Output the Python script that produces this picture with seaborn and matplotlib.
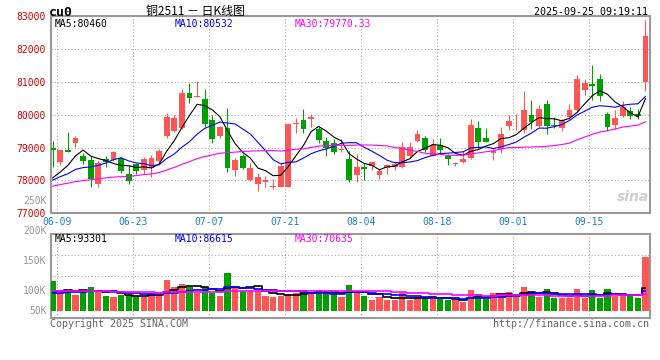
import numpy as np
import pandas as pd
import matplotlib
matplotlib.use("Agg")
import matplotlib.pyplot as plt
import seaborn as sns

# ---------------- data ----------------
date_labels = ["06-09", "06-23", "07-07", "07-21", "08-04", "08-18", "09-01", "09-15"]
date_index = [1, 11, 21, 31, 41, 51, 61, 71]

open_ = [79000, 78560, 78920, 79150, 78750, 78610, 77880, 78650, 78620, 78670,
         78180, 78490, 78320, 78390, 78590, 79360, 79500, 79600, 80650, 80540,
         80490, 79830, 79360, 79600, 78320, 78730, 78010, 77880, 77950, 77800,
         77790, 77790, 79710, 79850, 79880, 79550, 79190, 79140, 78920, 78650,
         78160, 78410, 78440, 78160, 78370, 78410, 78420, 78750, 79210, 79280,
         78750, 79080, 78730, 78490, 78560, 78670, 79600, 79290, 78820, 78950,
         79670, 79640, 79520, 80000, 79650, 80310, 79690, 79590, 79930, 80150,
         80750, 80930, 81070, 80020, 79700, 79970, 80120, 80030, 81000]
high = [79210, 78930, 79470, 79360, 78820, 78750, 78590, 78730, 78900, 78700,
        78460, 78540, 78700, 78770, 78950, 80060, 80000, 80780, 80960, 81010,
        80770, 79980, 79650, 80190, 78680, 78800, 78520, 78230, 78130, 78030,
        78520, 79740, 79910, 80170, 80030, 79620, 79310, 79260, 79260, 78880,
        78800, 78540, 78570, 78340, 78490, 78590, 79160, 79160, 79520, 79340,
        79260, 79290, 78800, 78560, 78880, 79880, 79810, 79600, 79000, 79620,
        80000, 80030, 80720, 80460, 80290, 80440, 79930, 79880, 80310, 81200,
        81080, 81520, 81250, 80070, 80150, 80400, 80220, 80170, 82880]
low = [78410, 78460, 78850, 79030, 78510, 77790, 77790, 78410, 78590, 78230,
       77900, 78180, 78210, 78110, 78540, 79280, 79470, 79550, 80340, 80530,
       79620, 79130, 79290, 78270, 78130, 78340, 77980, 77670, 77790, 77740,
       77790, 77790, 79440, 79450, 79620, 79130, 78730, 78800, 78870, 77950,
       77950, 78010, 78320, 78030, 78210, 78320, 78390, 78670, 79180, 78850,
       78730, 78800, 78470, 78440, 78540, 78650, 79000, 79160, 78620, 78820,
       79520, 79520, 79450, 79570, 79620, 79400, 79590, 79490, 79830, 80070,
       80600, 80450, 80400, 79500, 79550, 79930, 79870, 79870, 80730]
close = [78940, 78920, 78870, 79290, 78590, 78030, 78540, 78570, 78850, 78290,
         77980, 78290, 78650, 78680, 78880, 79930, 79900, 80650, 80520, 80580,
         79720, 79260, 79620, 78390, 78610, 78390, 78390, 78100, 78000, 77840,
         78440, 79720, 79750, 79570, 79930, 79240, 79000, 78850, 78970, 78010,
         78410, 78340, 78570, 78290, 78460, 78490, 79030, 79030, 79400, 78920,
         79080, 78920, 78650, 78520, 78650, 79690, 79180, 79180, 78900, 79420,
         79800, 79670, 80130, 79780, 80170, 79650, 79640, 79830, 80150, 81070,
         80950, 80880, 80580, 79620, 79900, 80230, 79950, 79970, 82380]
volume_k = [128, 77, 85, 67, 88, 101, 78, 64, 60, 67,
            67, 64, 60, 67, 80, 131, 102, 114, 100, 77,
            102, 77, 64, 162, 100, 85, 85, 85, 64, 60,
            64, 71, 77, 88, 71, 88, 74, 74, 60, 109,
            85, 64, 46, 60, 46, 46, 74, 46, 57, 53,
            57, 50, 46, 46, 38, 88, 71, 50, 74, 71,
            80, 60, 102, 80, 60, 92, 53, 53, 53, 92,
            53, 88, 53, 92, 64, 64, 64, 53, 230]

# estimated sessions before the window (only feed the moving averages)
prior_close = [77400, 77650, 77900, 77550, 77300, 77600, 77850, 78100, 77950, 77700,
               77500, 77800, 78000, 77750, 77600, 77450, 77900, 78050, 77800, 77800,
               77850, 78000, 77950, 78050, 77830, 78050, 77850, 77850, 77710]
prior_volume_k = [95, 88, 102, 80, 92, 85, 110, 78, 90, 84,
                  96, 82, 88, 93, 79, 101, 86, 83, 91, 77,
                  78, 70, 75, 68, 74, 72, 65, 70, 70]

price_ticks = [77000, 78000, 79000, 80000, 81000, 82000, 83000]
price_tick_labels = ["77000", "78000", "79000", "80000", "81000", "82000", "83000"]
vol_tick_labels = ["250K", "200K", "150K", "100K", "50K"]
price_legend = ["MA5:80460", "MA10:80532", "MA30:79770.33"]
vol_legend = ["MA5:93301", "MA10:86615", "MA30:70635"]

# ---------------- derived ----------------
n = len(close)
idx = np.arange(n)
df = pd.DataFrame({"i": idx, "open": open_, "high": high, "low": low,
                   "close": close, "volume": np.array(volume_k) * 1000.0})
df["dir"] = np.where(df["close"] >= df["open"], "up", "down")

full_close = pd.Series(prior_close + close, dtype=float)
full_vol = pd.Series(prior_volume_k + volume_k, dtype=float) * 1000.0
p = len(prior_close)
for w in (5, 10, 30):
    df[f"ma{w}"] = full_close.rolling(w).mean().iloc[p:].to_numpy()
    df[f"vma{w}"] = full_vol.rolling(w).mean().iloc[p:].to_numpy()

RED = "#ff5555"
GREEN = "#00a000"
GRID = "#aaaaaa"
SPINE = "#999999"
MONO = "DejaVu Sans Mono"
CJK = ["Noto Sans CJK SC", "DejaVu Sans"]
MA_COLORS = ["#000000", "#0000ff", "#ff00ff"]

W, H = 660, 360
fig = plt.figure(figsize=(W / 100, H / 100), dpi=100)
fig.patch.set_facecolor("white")


def rect(l, t, r, b):
    return [l / W, 1 - b / H, (r - l) / W, (b - t) / H]


def fx(x):
    return x / W


def fy(y):
    return 1 - y / H


ax = fig.add_axes(rect(50.7, 16, 649.5, 213.3))
axv = fig.add_axes(rect(50.7, 234.3, 649.5, 317.7))

xlim = (-0.26, 78.53)
grid_x = np.array(date_index) - 0.4

# ---------------- price panel ----------------
colors = np.where(df["dir"] == "up", RED, GREEN)
ax.vlines(df["i"], df["low"], df["high"], colors=colors, linewidth=0.8, zorder=3)
body_lo = np.minimum(df["open"], df["close"])
body_h = np.maximum(np.abs(df["close"] - df["open"]), 30)
ax.bar(df["i"], body_h, bottom=body_lo, width=0.78, color=colors, linewidth=0, zorder=4)

for w, c in zip((5, 10, 30), MA_COLORS):
    sns.lineplot(x=df["i"], y=df[f"ma{w}"], color=c, linewidth=0.8, ax=ax,
                 estimator=None, sort=False, zorder=5)

ax.set_xlim(*xlim)
ax.set_ylim(77000, 83000)
ax.set_xlabel("")
ax.set_ylabel("")
ax.set_yticks(price_ticks)
ax.set_yticklabels(price_tick_labels, fontfamily=MONO, fontsize=7, color="#e00000")
ax.set_xticks(grid_x)
ax.set_xticklabels(date_labels, fontfamily=MONO, fontsize=7, color="#1a7fd6")
ax.tick_params(axis="y", length=0, pad=3.3)
ax.tick_params(axis="x", length=0, pad=2.6)
ax.grid(True, color=GRID, linestyle=(0, (1, 2)), linewidth=0.8)
ax.set_axisbelow(True)
for s in ax.spines.values():
    s.set_color(SPINE)
    s.set_linewidth(1.5)

for txt, c, x in zip(price_legend, MA_COLORS, (55, 174.5, 295)):
    fig.text(fx(x), fy(24), txt, color=c, fontfamily=MONO, fontsize=7,
             ha="left", va="center")

# watermark
fig.text(fx(649), fy(197), "sina", color="#cfcfcf", fontsize=10,
         fontweight="bold", style="italic", ha="right", va="center",
         fontfamily="DejaVu Sans")

# ---------------- volume panel ----------------
sns.barplot(x=df["i"], y=df["volume"], hue=df["dir"],
            palette={"up": RED, "down": GREEN}, native_scale=True, width=0.8,
            dodge=False, legend=False, saturation=1, linewidth=0, ax=axv, zorder=3)
for w, c in zip((5, 10, 30), MA_COLORS):
    sns.lineplot(x=df["i"], y=df[f"vma{w}"], color=c, linewidth=1.2, ax=axv,
                 estimator=None, sort=False, drawstyle="steps-mid", zorder=5)

k = 0.235 / 1000.0  # px per lot
vlo = -(317.7 - 310.7) / k
vhi = (310.7 - 234.3) / k
axv.set_xlim(*xlim)
axv.set_ylim(vlo, vhi)
axv.set_xlabel("")
axv.set_ylabel("")
axv.set_xticks(grid_x)
axv.set_xticklabels([])
axv.set_yticks([])
axv.tick_params(length=0)
axv.grid(True, axis="x", color=GRID, linestyle=(0, (1, 2)), linewidth=0.8)
for f in (0.25, 0.5, 0.75):
    axv.axhline(vlo + f * (vhi - vlo), color=GRID, linestyle=(0, (1, 2)),
                linewidth=0.8, zorder=0)
axv.set_axisbelow(True)
for s in axv.spines.values():
    s.set_color(SPINE)
    s.set_linewidth(1.5)

for txt, y in zip(vol_tick_labels, (200.7, 230.7, 261, 290.7, 310.7)):
    fig.text(fx(46.5), fy(y), txt, color="#999999", fontfamily=MONO, fontsize=7,
             ha="right", va="center")
for txt, c, x in zip(vol_legend, MA_COLORS, (55, 174.5, 295)):
    fig.text(fx(x), fy(238.5), txt, color=c, fontfamily=MONO, fontsize=7,
             ha="left", va="center")

# ---------------- header / footer ----------------
fig.text(fx(49), fy(12), "cu0", color="black", fontfamily=MONO, fontsize=9.5,
         fontweight="bold", ha="left", va="center")
fig.text(fx(195), fy(11), "铜2511 － 日K线图", color="black", family=CJK,
         fontsize=8.6, ha="center", va="center")
fig.text(fx(648), fy(12), "2025-09-25 09:19:11", color="black", fontfamily=MONO,
         fontsize=7.2, ha="right", va="center")
fig.text(fx(50), fy(324), "Copyright 2025 SINA.COM", color="#666666",
         fontfamily=MONO, fontsize=7.2, ha="left", va="center")
fig.text(fx(649), fy(324), "http://finance.sina.com.cn", color="#666666",
         fontfamily=MONO, fontsize=7.2, ha="right", va="center")

fig.savefig("out.png", dpi=100, facecolor="white")
